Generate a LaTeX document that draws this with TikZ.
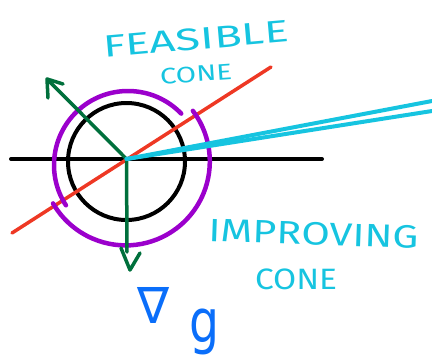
\documentclass[tikz,border=0pt]{standalone}
\usepackage{graphicx}
\usepackage{fontspec}
\setmainfont{Fira Sans}
\newfontfamily\symfont{DejaVu Sans}
\definecolor{skcyan}{RGB}{22,196,224}
\definecolor{skred}{RGB}{238,56,36}
\definecolor{skpurple}{RGB}{155,0,204}
\definecolor{skgreen}{RGB}{0,112,60}
\definecolor{skblue}{RGB}{10,110,250}
\tikzset{
  axisline/.style={line width=4pt, black},
  circleline/.style={circle, draw=black, line width=4pt, inner sep=0pt, minimum size=117pt},
  redline/.style={line width=3.5pt, skred},
  purpleline/.style={line width=4.5pt, skpurple},
  greenline/.style={line width=3.5pt, skgreen},
  cyanline/.style={line width=4pt, skcyan},
  handtext/.style={inner sep=0pt, text=skcyan},
  gradtext/.style={inner sep=0pt, text=skblue},
}
\begin{document}
\begin{tikzpicture}[x=1pt, y=-1pt, line cap=round, line join=round]
\useasboundingbox (0,0) rectangle (432,357);
% key points
\coordinate (O) at (126.5,159);
\coordinate (hl) at (11,159);
\coordinate (hr) at (322,159);
\coordinate (r1) at (12,233);
\coordinate (r2) at (271,67);
\coordinate (pc1) at (128,165);
\coordinate (pc2) at (125,162);
\coordinate (gup) at (47,79);
\coordinate (gupa) at (48,98);
\coordinate (gupb) at (63,84);
\coordinate (gdn) at (127,252);
\coordinate (gdntip) at (130,270);
\coordinate (gdna) at (121,248);
\coordinate (gdnb) at (140,253);
\coordinate (c1) at (432,101);
\coordinate (c2) at (432,111);
% black axis and circle
\draw[axisline] (hl) -- (hr);
\node[circleline] (bc) at (126.5,161.5) {};
% red line
\draw[redline] (r1) -- (r2);
% purple split circle
\draw[purpleline] (pc1) ++(-44:74) arc[start angle=-44, end angle=-213, radius=74];
\draw[purpleline] (pc2) ++(-37:85) arc[start angle=-37, end angle=150, radius=84];
% green arrows
\draw[greenline] (O) -- (gup);
\draw[greenline] (gupa) -- (gup) -- (gupb);
\draw[greenline] (O) -- (gdn);
\draw[greenline] (gdna) -- (gdntip) -- (gdnb);
% cyan cone
\draw[cyanline] (O) -- (c1);
\draw[cyanline] (O) -- (c2);
% labels
\node[handtext, rotate=5] (feas) at (196,39) {\resizebox*{186pt}{22pt}{FEASIBLE}};
\node[handtext, rotate=4] (cone1) at (196,74) {\resizebox*{72pt}{16pt}{CONE}};
\node[handtext, rotate=-2] (impr) at (314,234) {\resizebox*{210pt}{23pt}{IMPROVING}};
\node[handtext] (cone2) at (296,279) {\resizebox*{82pt}{21pt}{CONE}};
\node[gradtext] (nab) at (154,305) {\resizebox*{32pt}{36pt}{\symfont ∇}};
\node[gradtext] (gg) at (204,332) {\resizebox*{30pt}{46pt}{\symfont g}};
\end{tikzpicture}
\end{document}
